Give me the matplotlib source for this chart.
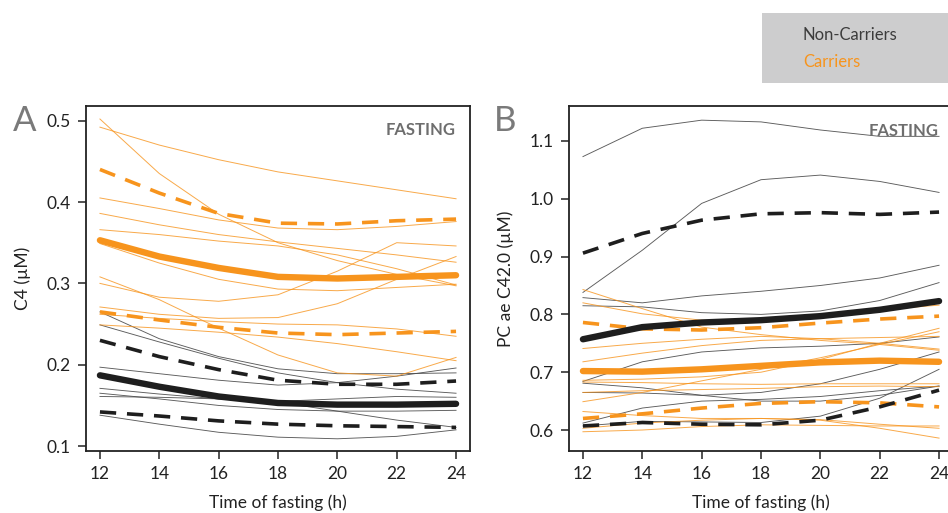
import numpy as np
import matplotlib
matplotlib.use("Agg")
import matplotlib.pyplot as plt
from matplotlib.patches import Rectangle

plt.rcParams['font.family'] = ['Lato', 'DejaVu Sans']

W, H = 948, 513
ORANGE = '#f7941d'
BLACK = '#1e1e1e'
GREY = '#4a4a4a'

# time points (h)
hours = [12, 14, 16, 18, 20, 22, 24]

# ---- panel A: C4 (uM) ----
a_carriers = [
    [0.492, 0.470, 0.452, 0.437, 0.426, 0.415, 0.404],
    [0.502, 0.435, 0.385, 0.350, 0.328, 0.311, 0.297],
    [0.405, 0.392, 0.378, 0.368, 0.366, 0.370, 0.376],
    [0.386, 0.372, 0.360, 0.351, 0.343, 0.335, 0.326],
    [0.366, 0.360, 0.352, 0.346, 0.335, 0.318, 0.298],
    [0.349, 0.325, 0.305, 0.293, 0.291, 0.295, 0.299],
    [0.300, 0.283, 0.278, 0.286, 0.315, 0.350, 0.346],
    [0.308, 0.280, 0.245, 0.212, 0.190, 0.186, 0.209],
    [0.271, 0.262, 0.257, 0.258, 0.275, 0.305, 0.333],
    [0.262, 0.257, 0.253, 0.250, 0.249, 0.244, 0.235],
    [0.249, 0.245, 0.240, 0.234, 0.226, 0.216, 0.205],
]
a_noncarriers = [
    [0.265, 0.232, 0.210, 0.195, 0.189, 0.189, 0.190],
    [0.249, 0.228, 0.208, 0.190, 0.178, 0.170, 0.165],
    [0.197, 0.189, 0.181, 0.175, 0.178, 0.186, 0.196],
    [0.171, 0.164, 0.158, 0.155, 0.158, 0.161, 0.160],
    [0.165, 0.158, 0.150, 0.145, 0.143, 0.143, 0.144],
    [0.161, 0.160, 0.158, 0.154, 0.143, 0.132, 0.123],
    [0.138, 0.127, 0.117, 0.111, 0.109, 0.112, 0.120],
]
a_car_mean = [0.353, 0.333, 0.319, 0.308, 0.306, 0.308, 0.310]
a_car_hi = [0.440, 0.411, 0.386, 0.374, 0.373, 0.377, 0.379]
a_car_lo = [0.265, 0.255, 0.246, 0.239, 0.237, 0.239, 0.241]
a_non_mean = [0.187, 0.173, 0.161, 0.153, 0.151, 0.151, 0.152]
a_non_hi = [0.230, 0.210, 0.194, 0.181, 0.176, 0.176, 0.180]
a_non_lo = [0.142, 0.137, 0.131, 0.127, 0.125, 0.124, 0.123]

# ---- panel B: PC ae C42.0 (uM) ----
b_carriers = [
    [0.843, 0.810, 0.778, 0.765, 0.755, 0.748, 0.738],
    [0.820, 0.801, 0.790, 0.789, 0.797, 0.808, 0.816],
    [0.741, 0.750, 0.757, 0.762, 0.758, 0.750, 0.740],
    [0.718, 0.733, 0.746, 0.755, 0.758, 0.760, 0.762],
    [0.686, 0.688, 0.692, 0.700, 0.722, 0.750, 0.776],
    [0.649, 0.665, 0.685, 0.705, 0.725, 0.748, 0.770],
    [0.683, 0.682, 0.680, 0.679, 0.680, 0.680, 0.680],
    [0.665, 0.668, 0.670, 0.672, 0.675, 0.676, 0.675],
    [0.632, 0.625, 0.620, 0.620, 0.618, 0.610, 0.603],
    [0.603, 0.612, 0.617, 0.620, 0.617, 0.603, 0.586],
    [0.597, 0.600, 0.606, 0.609, 0.608, 0.607, 0.607],
]
b_noncarriers = [
    [1.073, 1.122, 1.136, 1.133, 1.119, 1.108, 1.108],
    [0.838, 0.911, 0.992, 1.033, 1.041, 1.030, 1.011],
    [0.829, 0.820, 0.832, 0.840, 0.850, 0.863, 0.885],
    [0.815, 0.813, 0.803, 0.800, 0.806, 0.824, 0.855],
    [0.684, 0.718, 0.735, 0.742, 0.745, 0.750, 0.761],
    [0.681, 0.673, 0.660, 0.650, 0.650, 0.660, 0.676],
    [0.665, 0.664, 0.660, 0.665, 0.680, 0.705, 0.735],
    [0.607, 0.615, 0.614, 0.613, 0.624, 0.655, 0.705],
    [0.612, 0.638, 0.650, 0.653, 0.658, 0.668, 0.676],
]
b_car_mean = [0.702, 0.701, 0.705, 0.711, 0.717, 0.720, 0.718]
b_car_hi = [0.786, 0.775, 0.773, 0.777, 0.785, 0.792, 0.797]
b_car_lo = [0.620, 0.628, 0.638, 0.646, 0.649, 0.647, 0.640]
b_non_mean = [0.757, 0.778, 0.786, 0.790, 0.797, 0.808, 0.823]
b_non_hi = [0.906, 0.940, 0.963, 0.974, 0.976, 0.973, 0.977]
b_non_lo = [0.607, 0.613, 0.610, 0.609, 0.617, 0.640, 0.669]

DASH = (0, (4.5, 3))


def fx(px):
    return px / W


def fy(py):
    return 1 - py / H


def draw_panel(ax, carriers, noncarriers, cm, chi, clo, nm, nhi, nlo):
    for s in noncarriers:
        ax.plot(hours, s, color=GREY, lw=0.65, alpha=0.9, zorder=2)
    for s in carriers:
        ax.plot(hours, s, color=ORANGE, lw=0.7, alpha=0.8, zorder=2)
    ax.plot(hours, chi, color=ORANGE, lw=2.6, ls=DASH, zorder=3)
    ax.plot(hours, clo, color=ORANGE, lw=2.6, ls=DASH, zorder=3)
    ax.plot(hours, nhi, color=BLACK, lw=2.6, ls=DASH, zorder=3)
    ax.plot(hours, nlo, color=BLACK, lw=2.6, ls=DASH, zorder=3)
    ax.plot(hours, cm, color=ORANGE, lw=4.6, solid_capstyle='round', zorder=4)
    ax.plot(hours, nm, color=BLACK, lw=4.6, solid_capstyle='round', zorder=4)
    ax.set_xlim(11.53, 24.47)
    ax.set_xticks(hours)
    for sp in ax.spines.values():
        sp.set_linewidth(1.3)
        sp.set_color('#222222')
    ax.tick_params(direction='out', length=6, width=1.1, labelsize=12.5,
                   colors='#222222', pad=5)
    ax.set_xlabel('Time of fasting (h)', fontsize=12.5, color='#222222', labelpad=9)


fig = plt.figure(figsize=(W / 100, H / 100), dpi=100)

axA = fig.add_axes([fx(86), fy(451), fx(470 - 86), (451 - 106) / H])
draw_panel(axA, a_carriers, a_noncarriers, a_car_mean, a_car_hi, a_car_lo,
           a_non_mean, a_non_hi, a_non_lo)
axA.set_ylim(0.094, 0.518)
axA.set_yticks([0.1, 0.2, 0.3, 0.4, 0.5])
axA.set_yticklabels(['0.1', '0.2', '0.3', '0.4', '0.5'])
axA.set_ylabel('C4 (µM)', fontsize=12.5, color='#222222')
axA.yaxis.set_label_coords((31 - 86) / (470 - 86), 0.5)
axA.text(0.962, 0.955, 'FASTING', transform=axA.transAxes, ha='right', va='top',
         fontsize=12, fontweight='bold', color='#6e6e6e')

axB = fig.add_axes([fx(569), fy(451), fx(953 - 569), (451 - 106) / H])
draw_panel(axB, b_carriers, b_noncarriers, b_car_mean, b_car_hi, b_car_lo,
           b_non_mean, b_non_hi, b_non_lo)
axB.set_ylim(0.5637, 1.1605)
axB.set_yticks([0.6, 0.7, 0.8, 0.9, 1.0, 1.1])
axB.set_yticklabels(['0.6', '0.7', '0.8', '0.9', '1.0', '1.1'])
axB.set_ylabel('PC ae C42.0 (µM)', fontsize=12.5, color='#222222')
axB.yaxis.set_label_coords((514 - 569) / (953 - 569), 0.5)
axB.text(0.963, 0.95, 'FASTING', transform=axB.transAxes, ha='right', va='top',
         fontsize=12, fontweight='bold', color='#6e6e6e')

# panel letters
fig.text(fx(25), fy(121), 'A', fontsize=25, color='#7a7a7a', ha='center', va='center')
fig.text(fx(505), fy(121), 'B', fontsize=25, color='#7a7a7a', ha='center', va='center')

# legend box
fig.patches.append(Rectangle((fx(762), fy(83)), fx(948 - 762), (83 - 13) / H,
                             transform=fig.transFigure, facecolor='#cdcdce',
                             edgecolor='none', zorder=0))
fig.text(fx(803), fy(35), 'Non-Carriers', fontsize=12, color='#3c3c3c', va='center')
fig.text(fx(803), fy(62), 'Carriers', fontsize=12, color=ORANGE, va='center')

fig.savefig('out.png', dpi=100)
